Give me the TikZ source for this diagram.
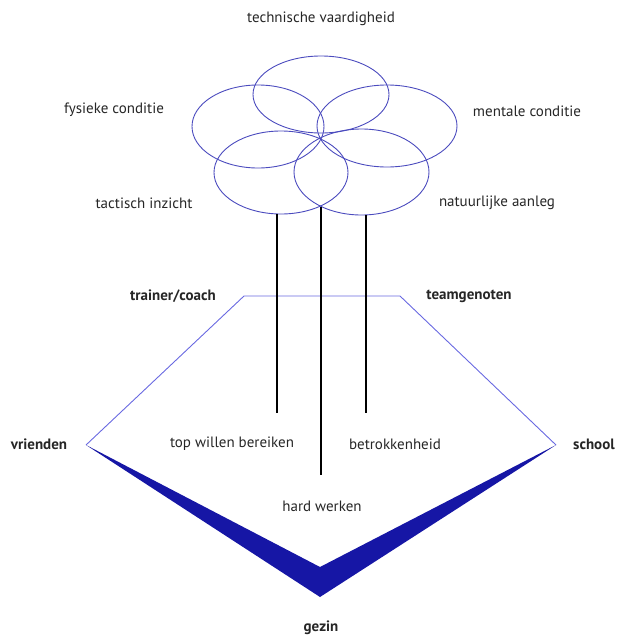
\documentclass[tikz,border=0pt]{standalone}
\usepackage{fontspec}
\setmainfont{PT Sans}
\usetikzlibrary{positioning}
\definecolor{ringblue}{RGB}{75,75,190}
\definecolor{edgeblue}{RGB}{105,105,225}
\definecolor{bandblue}{RGB}{22,22,165}
\tikzset{
  ring/.style={draw=ringblue, line width=0.9pt},
  edge/.style={draw=edgeblue, line width=0.9pt},
  stem/.style={draw=black, line width=2pt},
  factor/.style={font=\fontsize{15}{17}\selectfont, text=black!85, inner sep=0pt},
  party/.style={factor, font=\fontsize{15}{17}\selectfont\bfseries}
}

\begin{document}
\begin{tikzpicture}[x=1pt,y=-1pt]
\useasboundingbox (0,0) rectangle (616,637);

% five rings of the flower
\foreach \cx/\cy/\rx/\ry in {321/94.5/68/38.5, 258/126.5/66/41.5, 387/126/70/41, 281/172.5/67/41.5, 361.5/172/67.5/43}
  \draw[ring] (\cx,\cy) ellipse [x radius=\rx, y radius=\ry];

\node[factor] (technisch) at (321,19) {technische vaardigheid};
\node[factor] (fysiek) at (114,110) {fysieke conditie};
\node[factor] (mentaal) at (527,111) {mentale conditie};
\node[factor] (tactisch) at (144,203) {tactisch inzicht};
\node[factor] (aanleg) at (497,203) {natuurlijke aanleg};

% the surroundings
\coordinate (trainerhoek) at (244,296);
\coordinate (teamhoek) at (400,296);
\coordinate (vriendenhoek) at (86,445);
\coordinate (schoolhoek) at (556,445);
\coordinate (gezinbuiten) at (320,597);
\coordinate (gezinbinnen) at (320,567);

\draw[edge] (vriendenhoek) -- (trainerhoek) -- (teamhoek) -- (schoolhoek);
\fill[bandblue] (vriendenhoek) -- (gezinbuiten) -- (schoolhoek) -- (gezinbinnen) -- cycle;

\node[party] (trainer) at (173,296) {trainer/coach};
\node[party] (team) at (469,296) {teamgenoten};
\node[party] (vrienden) at (39,444) {vrienden};
\node[party] (school) at (594,444) {school};
\node[party] (gezin) at (321,628) {gezin};

% stems
\coordinate (voetL) at (277,214);
\coordinate (voetM) at (321,207);
\coordinate (voetR) at (366,215);
\coordinate (eindL) at (277,413);
\coordinate (eindM) at (321,475);
\coordinate (eindR) at (366,413);
\draw[stem] (voetL) -- (eindL);
\draw[stem] (voetM) -- (eindM);
\draw[stem] (voetR) -- (eindR);

\node[factor] (top) at (232,444) {top willen bereiken};
\node[factor] (betrokken) at (395,444) {betrokkenheid};
\node[factor] (hard) at (322,506) {hard werken};

\end{tikzpicture}
\end{document}
